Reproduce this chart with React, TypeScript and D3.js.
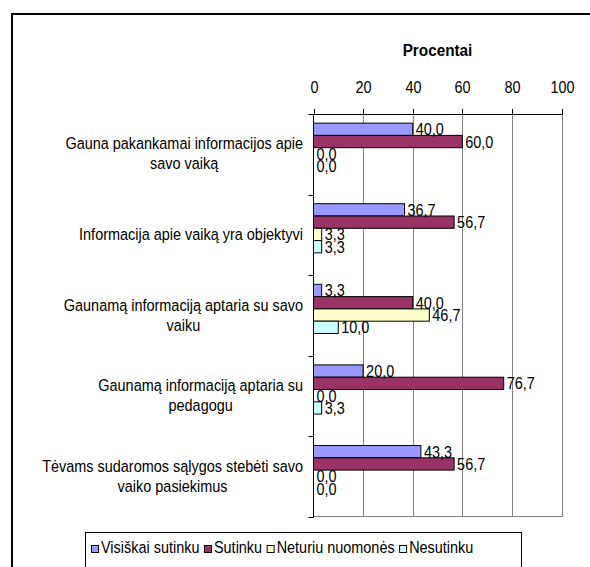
import { useEffect, useRef } from 'react';
import * as d3 from 'd3';

const categories = [
  'Gauna pakankamai informacijos apie savo vaiką',
  'Informacija apie vaiką yra objektyvi',
  'Gaunamą informaciją aptaria su savo vaiku',
  'Gaunamą informaciją aptaria su pedagogu',
  'Tėvams sudaromos sąlygos stebėti savo vaiko pasiekimus',
];

// how Excel wrapped each category label
const categoryLines = [
  ['Gauna pakankamai informacijos apie', 'savo vaiką'],
  ['Informacija apie vaiką yra objektyvi'],
  ['Gaunamą informaciją aptaria su savo', 'vaiku'],
  ['Gaunamą informaciją aptaria su', 'pedagogu'],
  ['Tėvams sudaromos sąlygos stebėti savo', 'vaiko pasiekimus'],
];

const series = ['Visiškai sutinku', 'Sutinku', 'Neturiu nuomonės', 'Nesutinku'];
const seriesColors = ['#9999FF', '#993366', '#FFFFCC', '#CCFFFF'];

const visiskaiSutinku = [40.0, 36.7, 3.3, 20.0, 43.3];
const sutinku = [60.0, 56.7, 40.0, 76.7, 56.7];
const neturiuNuomones = [0.0, 3.3, 46.7, 0.0, 0.0];
const nesutinku = [0.0, 3.3, 10.0, 3.3, 0.0];

const xTicks = [0, 20, 40, 60, 80, 100];
const axisTitle = 'Procentai';

const FONT = '"Liberation Sans", Arial, sans-serif';
const SIZE = 17;
const SQUEEZE = 0.85;

const App = () => {
  const svgRef = useRef<SVGSVGElement>(null);

  useEffect(() => {
    const svg = d3.select(svgRef.current);
    svg.selectAll('*').remove();

    const width = 590;
    const height = 567;

    const values = [visiskaiSutinku, sutinku, neturiuNuomones, nesutinku];
    const rows = categories.map((c, i) => ({
      category: c,
      bars: series.map((s, j) => ({ series: s, value: values[j][i], color: seriesColors[j] })),
    }));

    // text that looks like Excel's narrow Arial
    const addText = (g, x, y, str, anchor = 'start', weight = 'normal', squeeze = SQUEEZE) =>
      g.append('text')
        .attr('transform', `translate(${x},${y}) scale(${squeeze},1)`)
        .attr('text-anchor', anchor)
        .style('font-family', FONT)
        .style('font-size', `${SIZE}px`)
        .style('font-weight', weight)
        .attr('fill', '#000')
        .text(str);

    svg.append('rect').attr('width', width).attr('height', height).attr('fill', '#fff');

    // outer chart frame (runs off the right and bottom)
    svg.append('rect')
      .attr('x', 12).attr('y', 14)
      .attr('width', 800).attr('height', 800)
      .attr('fill', 'none')
      .attr('stroke', '#000')
      .attr('stroke-width', 2);

    const x = d3.scaleLinear().domain([0, 100]).range([313.5, 561.5]);
    const y = d3.scaleBand().domain(categories).range([114, 517]).padding(0);
    const ys = d3.scaleBand()
      .domain(series)
      .range([0, y.bandwidth()])
      .paddingInner(0)
      .paddingOuter(1.28)
      .align(0.29);

    const top = y.range()[0];
    const bottom = y.range()[1];

    // gridlines
    svg.append('g')
      .selectAll('line')
      .data(xTicks.filter(t => t > 0))
      .enter()
      .append('line')
      .attr('x1', d => Math.round(x(d)) + 0.5)
      .attr('x2', d => Math.round(x(d)) + 0.5)
      .attr('y1', top)
      .attr('y2', bottom)
      .attr('stroke', '#808080')
      .attr('stroke-width', 1);

    svg.append('line')
      .attr('x1', x(0)).attr('x2', Math.round(x(100)) + 0.5)
      .attr('y1', bottom - 0.5).attr('y2', bottom - 0.5)
      .attr('stroke', '#808080');

    // bars
    const groups = svg.append('g')
      .selectAll('g')
      .data(rows)
      .enter()
      .append('g')
      .attr('transform', d => `translate(0,${y(d.category)})`);

    groups.selectAll('rect')
      .data(d => d.bars)
      .enter()
      .append('rect')
      .attr('x', x(0))
      .attr('y', d => ys(d.series))
      .attr('width', d => x(d.value) - x(0))
      .attr('height', ys.bandwidth())
      .attr('fill', d => d.color)
      .attr('stroke', '#000')
      .attr('stroke-width', 1);

    const fmt = d3.format('.1f');
    groups.each(function (d) {
      const g = d3.select(this);
      d.bars.forEach(b => {
        addText(g, x(b.value) + 3, ys(b.series) + ys.bandwidth() / 2 + 6, fmt(b.value).replace('.', ','));
      });
    });

    // top value axis
    svg.append('line')
      .attr('x1', x(0) - 1).attr('x2', Math.round(x(100)) + 1)
      .attr('y1', top + 0.5).attr('y2', top + 0.5)
      .attr('stroke', '#000');
    xTicks.forEach(t => {
      const px = Math.round(x(t)) + 0.5;
      svg.append('line')
        .attr('x1', px).attr('x2', px)
        .attr('y1', top - 5).attr('y2', top)
        .attr('stroke', '#000');
      addText(svg, px, 93, String(t), 'middle');
    });
    addText(svg, (x(0) + x(100)) / 2, 56, axisTitle, 'middle', 'bold', 0.9);

    // left category axis
    svg.append('line')
      .attr('x1', x(0)).attr('x2', x(0))
      .attr('y1', top).attr('y2', bottom)
      .attr('stroke', '#000');
    categories.concat(['__end']).forEach((c, i) => {
      const py = Math.round(i < categories.length ? y(c) : bottom) + 0.5;
      svg.append('line')
        .attr('x1', x(0) - 5).attr('x2', x(0))
        .attr('y1', py).attr('y2', py)
        .attr('stroke', '#000');
    });

    // category labels: centred lines inside a block that ends near the axis
    categoryLines.forEach((lines, i) => {
      const g = svg.append('g');
      const cy = y(categories[i]) + y.bandwidth() / 2;
      const lineY = k => cy + (k - (lines.length - 1) / 2) * 20 + 5;
      const texts = lines.map((line, k) => addText(g, 0, lineY(k), line, 'middle'));
      const maxW = d3.max(texts, t => t.node().getComputedTextLength() * SQUEEZE);
      const cx = 303 - maxW / 2;
      texts.forEach((t, k) => {
        t.attr('transform', `translate(${cx},${lineY(k)}) scale(${SQUEEZE},1)`);
      });
    });

    // legend
    const legend = svg.append('g');
    legend.append('rect')
      .attr('x', 85.5).attr('y', 532.5)
      .attr('width', 436).attr('height', 60)
      .attr('fill', '#fff')
      .attr('stroke', '#000');
    let lx = 91.5;
    series.forEach((s, j) => {
      legend.append('rect')
        .attr('x', lx).attr('y', 545.5)
        .attr('width', 7).attr('height', 7)
        .attr('fill', seriesColors[j])
        .attr('stroke', '#000');
      const t = addText(legend, lx + 9.5, 553, s);
      lx += 9.5 + t.node().getComputedTextLength() * SQUEEZE + 5;
    });
  }, []);

  return (
    <svg
      ref={svgRef}
      width={590}
      height={567}
      style={{ position: 'absolute', left: 0, top: 0, display: 'block' }}
    />
  );
};

export default App;
